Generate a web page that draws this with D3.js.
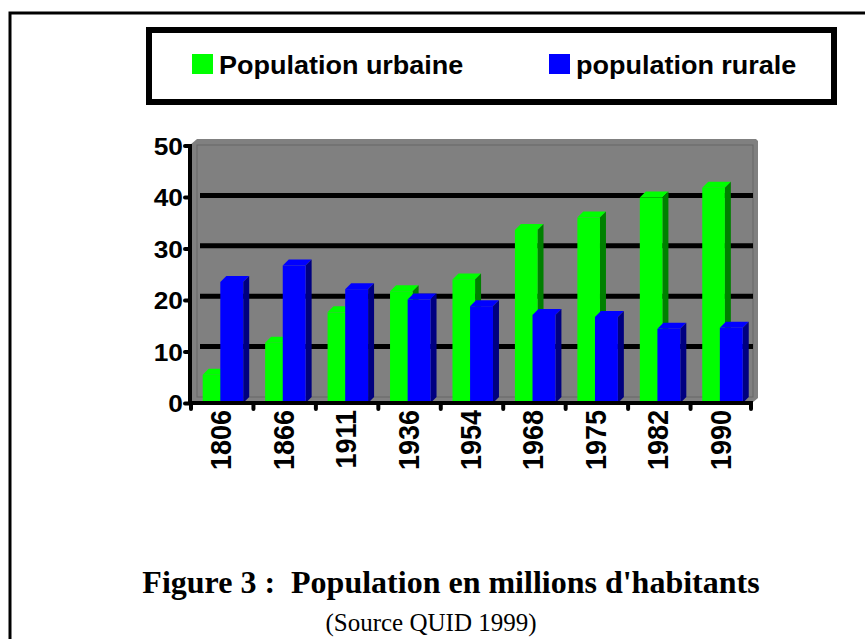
<!DOCTYPE html>
<html>
  <head>
    <style>
    body {
      margin: 0;
      background: #fff;
    }
    text {
      font-family: "Liberation Sans", Arial, sans-serif;
    }
    </style>
  </head>
  <body>
    <script src="https://d3js.org/d3.v7.min.js"></script>
    <script>

    // données (millions d'habitants)
    var years = ["1806", "1866", "1911", "1936", "1954", "1968", "1975", "1982", "1990"];
    var urbaine = [5.5, 11.7, 17.6, 21.7, 24.0, 33.6, 36.0, 39.9, 41.8];
    var rurale = [23.5, 26.7, 22.1, 20.1, 18.8, 17.1, 16.7, 14.4, 14.6];
    var yTicks = [0, 10, 20, 30, 40, 50];
    var seriesNames = ["Population urbaine", "population rurale"];

    var width = 865, height = 639;
    var depth = 6;

    var svg = d3.select("body").append("svg")
        .attr("width", width)
        .attr("height", height);

    // cadre de la page
    svg.append("rect")
        .attr("x", 10).attr("y", 13)
        .attr("width", 1000).attr("height", 1000)
        .style("fill", "none")
        .style("stroke", "#000")
        .style("stroke-width", 3);

    // legende
    svg.append("rect")
        .attr("x", 149).attr("y", 30)
        .attr("width", 685).attr("height", 72)
        .style("fill", "#fff")
        .style("stroke", "#000")
        .style("stroke-width", 6);

    var legendColors = ["#00ff00", "#0000ff"];
    var legendX = [192, 549];
    var leg = svg.selectAll(".leg")
        .data(seriesNames)
      .enter().append("g")
        .attr("class", "leg")
        .attr("transform", function(d, i){ return "translate(" + legendX[i] + ",54)"; });
    leg.append("rect")
        .attr("width", 21).attr("height", 20)
        .style("fill", function(d, i){ return legendColors[i]; });
    leg.append("text")
        .attr("transform", "translate(27,19.5) scale(1.08,1)")
        .style("font-size", "25px")
        .style("font-weight", "bold")
        .text(function(d){ return d; });

    // echelles
    var x = d3.scaleBand().domain(years).range([190, 752]);
    var y = d3.scaleLinear().domain([0, 50]).range([403, 145.5]);
    var yb = d3.scaleLinear().domain([0, 50]).range([397, 145]);

    // fond gris (murs + sol)
    var g = svg.append("g");
    g.append("path")
        .attr("d", "M190,145 L197,139 L756,139 L758,141 L758,398 L752,403 L190,403 Z")
        .style("fill", "#808080");

    g.append("rect")
        .attr("x", 197).attr("y", yb(50))
        .attr("width", 556).attr("height", yb(0) - yb(50))
        .style("fill", "none")
        .style("stroke", "#666")
        .style("stroke-width", 1);

    g.selectAll(".grid")
        .data(yTicks.filter(function(d){ return d > 0 && d < 50; }))
      .enter().append("line")
        .attr("class", "grid")
        .attr("x1", 200).attr("x2", 753)
        .attr("y1", function(d){ return yb(d); })
        .attr("y2", function(d){ return yb(d); })
        .style("stroke", "#000")
        .style("stroke-width", 5);

    // barres 3D
    var series = [
      {values: urbaine, off: 12.7, w: 22.6, front: "#00ff00", top: "#00ff00", side: "#008000"},
      {values: rurale, off: 30.3, w: 22.9, front: "#0000ff", top: "#0000ff", side: "#000080"}
    ];

    years.forEach(function(yr, i){
      series.forEach(function(s){
        var x0 = x(yr) + s.off, x1 = x0 + s.w;
        var y0 = y(s.values[i]), yB = y(0);
        var bar = g.append("g").attr("class", "bar");
        bar.append("path")
            .attr("d", "M" + x0 + "," + y0 + " L" + (x0 + depth) + "," + (y0 - depth) +
                       " L" + (x1 + depth) + "," + (y0 - depth) + " L" + x1 + "," + y0 + " Z")
            .style("fill", s.top);
        bar.append("path")
            .attr("d", "M" + x1 + "," + y0 + " L" + (x1 + depth) + "," + (y0 - depth) +
                       " L" + (x1 + depth) + "," + (yB - depth) + " L" + x1 + "," + yB + " Z")
            .style("fill", s.side);
        bar.append("rect")
            .attr("x", x0).attr("y", y0)
            .attr("width", s.w).attr("height", yB - y0)
            .style("fill", s.front);
      });
    });

    // axe Y
    var yAxis = svg.append("g")
        .attr("transform", "translate(190,0)")
        .call(d3.axisLeft(y).tickValues(yTicks).tickSize(5).tickSizeOuter(0).tickFormat(d3.format("d")));
    yAxis.select(".domain").attr("d", "M0,144V405").style("stroke", "#000").style("stroke-width", 4);
    yAxis.selectAll(".tick line").style("stroke", "#000").style("stroke-width", 4).style("stroke-linecap", "round");
    yAxis.selectAll(".tick text")
        .attr("x", null).attr("dy", null)
        .attr("transform", "translate(-7,8.5) scale(1.12,1)")
        .style("font-size", "23.5px")
        .style("font-weight", "bold")
        .style("font-family", "'Liberation Sans', Arial, sans-serif")
        .style("fill", "#000");

    // axe X
    var xAxis = svg.append("g");
    xAxis.append("line")
        .attr("x1", 188).attr("x2", 753)
        .attr("y1", 403).attr("y2", 403)
        .style("stroke", "#000").style("stroke-width", 4);
    xAxis.selectAll(".xtick")
        .data(years.concat(["end"]))
      .enter().append("line")
        .attr("class", "xtick")
        .attr("x1", function(d){ return d === "end" ? x.range()[1] - 1 : x(d) + 1; })
        .attr("x2", function(d){ return d === "end" ? x.range()[1] - 1 : x(d) + 1; })
        .attr("y1", 403).attr("y2", 409)
        .style("stroke", "#000").style("stroke-width", 4).style("stroke-linecap", "round");
    xAxis.selectAll(".xlab")
        .data(years)
      .enter().append("text")
        .attr("class", "xlab")
        .attr("transform", function(d){
          return "translate(" + (x(d) + x.bandwidth() / 2 + 10) + ",410) scale(1.09,1) rotate(-90)";
        })
        .attr("text-anchor", "end")
        .style("font-size", "27px")
        .style("font-weight", "bold")
        .text(function(d){ return d; });

    // titre
    svg.append("text")
        .attr("x", 451).attr("y", 593)
        .attr("text-anchor", "middle")
        .style("font-family", "'Liberation Serif', 'Times New Roman', serif")
        .style("font-size", "32px")
        .style("font-weight", "bold")
        .text("Figure 3 :\u00a0 Population en millions d'habitants");

    svg.append("text")
        .attr("x", 431).attr("y", 631)
        .attr("text-anchor", "middle")
        .style("font-family", "'Liberation Serif', 'Times New Roman', serif")
        .style("font-size", "25px")
        .text("(Source QUID 1999)");

    </script>
  </body>
</html>
